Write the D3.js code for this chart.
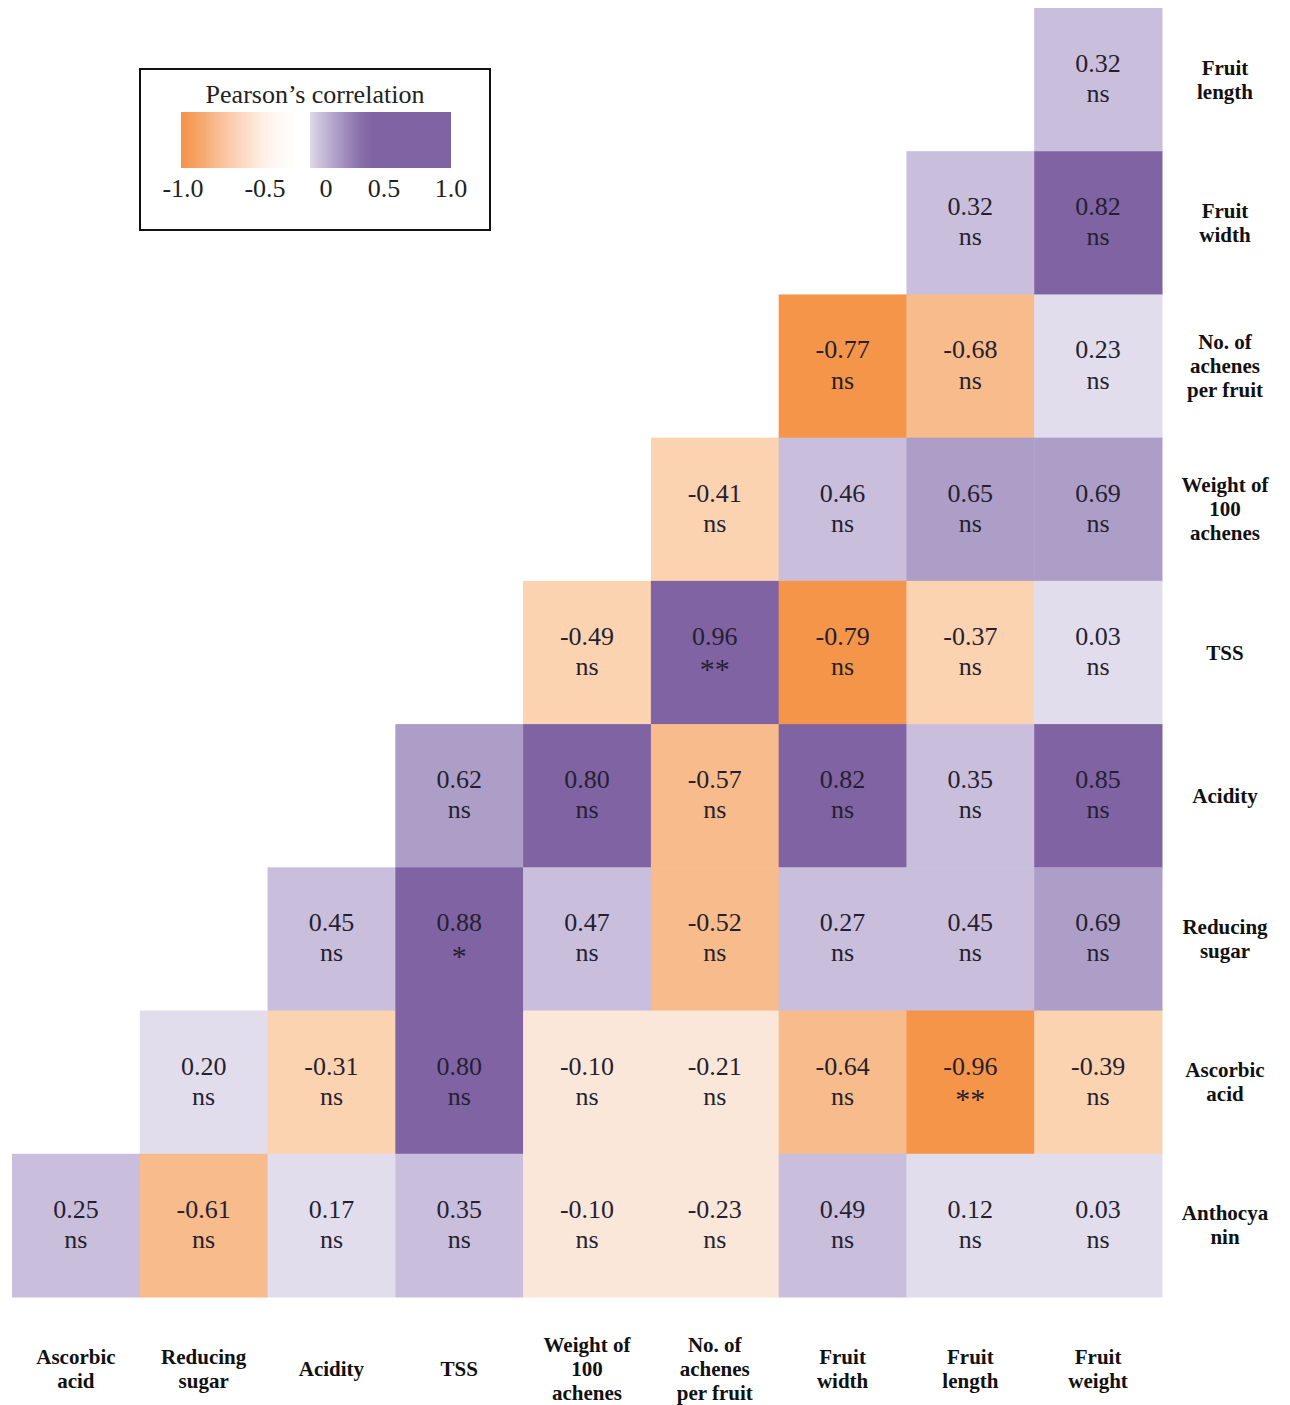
<!DOCTYPE html>
<html>
<head>
<meta charset="utf-8">
<script src="https://cdn.jsdelivr.net/npm/d3@7"></script>
<style>
  html, body { margin: 0; padding: 0; background: #ffffff; }
  svg { display: block; }
  svg text { font-family: "Liberation Serif", "Times New Roman", Tinos, "DejaVu Serif", serif; }
</style>
</head>
<body>
<div id="chart"></div>
<script>
// ---------- DATA ----------
const colLabels = ["Ascorbic acid", "Reducing sugar", "Acidity", "TSS", "Weight of 100 achenes",
  "No. of achenes per fruit", "Fruit width", "Fruit length", "Fruit weight"];
const colLabelLines = [["Ascorbic", "acid"], ["Reducing", "sugar"], ["Acidity"], ["TSS"],
  ["Weight of", "100", "achenes"], ["No. of", "achenes", "per fruit"], ["Fruit", "width"],
  ["Fruit", "length"], ["Fruit", "weight"]];
const rowLabels = ["Fruit length", "Fruit width", "No. of achenes per fruit", "Weight of 100 achenes",
  "TSS", "Acidity", "Reducing sugar", "Ascorbic acid", "Anthocyanin"];
const rowLabelLines = [["Fruit", "length"], ["Fruit", "width"], ["No. of", "achenes", "per fruit"],
  ["Weight of", "100", "achenes"], ["TSS"], ["Acidity"], ["Reducing", "sugar"], ["Ascorbic", "acid"],
  ["Anthocya", "nin"]];
// correlation values per row (null = empty cell), columns in colLabels order
const rowFruitLength   = [null, null, null, null, null, null, null, null, 0.32];
const rowFruitWidth    = [null, null, null, null, null, null, null, 0.32, 0.82];
const rowNoAchenes     = [null, null, null, null, null, null, -0.77, -0.68, 0.23];
const rowWeight100     = [null, null, null, null, null, -0.41, 0.46, 0.65, 0.69];
const rowTSS           = [null, null, null, null, -0.49, 0.96, -0.79, -0.37, 0.03];
const rowAcidity       = [null, null, null, 0.62, 0.80, -0.57, 0.82, 0.35, 0.85];
const rowReducingSugar = [null, null, 0.45, 0.88, 0.47, -0.52, 0.27, 0.45, 0.69];
const rowAscorbicAcid  = [null, 0.20, -0.31, 0.80, -0.10, -0.21, -0.64, -0.96, -0.39];
const rowAnthocyanin   = [0.25, -0.61, 0.17, 0.35, -0.10, -0.23, 0.49, 0.12, 0.03];
const corrRows = [rowFruitLength, rowFruitWidth, rowNoAchenes, rowWeight100, rowTSS,
  rowAcidity, rowReducingSugar, rowAscorbicAcid, rowAnthocyanin];
// significance marks (cells not listed are "ns")
const sigMarks = [
  { row: "TSS", col: "No. of achenes per fruit", mark: "**" },
  { row: "Reducing sugar", col: "TSS", mark: "*" },
  { row: "Ascorbic acid", col: "Fruit length", mark: "**" }
];
const legendTitle = "Pearson\u2019s correlation";
const legendNegTicks = [-1.0, -0.5];
const legendPosTicks = [0, 0.5, 1.0];
const binThresholds = [-0.7, -0.5, -0.3, 0, 0.24, 0.5, 0.75];
const binColors = ["#f5954a", "#f8bb8b", "#fbd3b1", "#fbe7da", "#e2ddec", "#c9bedc", "#ad9ec8", "#7f63a3"];

// ---------- CHART ----------
const W = 1290, H = 1405;
const svg = d3.select("#chart").append("svg").attr("width", W).attr("height", H);
const textColor = "#261f30";

const x = d3.scaleBand().domain(colLabels).range([12, 1162]).paddingInner(0);
const y = d3.scaleBand().domain(rowLabels).range([8, 1297]).paddingInner(0);
const color = d3.scaleThreshold().domain(binThresholds).range(binColors);

const cells = [];
corrRows.forEach((vals, ri) => {
  vals.forEach((v, ci) => {
    if (v === null) return;
    const s = sigMarks.find(m => m.row === rowLabels[ri] && m.col === colLabels[ci]);
    cells.push({ row: rowLabels[ri], col: colLabels[ci], value: v, sig: s ? s.mark : "ns" });
  });
});

const g = svg.append("g");
g.selectAll("rect.cell").data(cells).join("rect")
  .attr("class", "cell")
  .attr("x", d => x(d.col))
  .attr("y", d => y(d.row))
  .attr("width", x.bandwidth() + 0.5)
  .attr("height", y.bandwidth() + 0.5)
  .attr("fill", d => color(d.value));

g.selectAll("text.val").data(cells).join("text")
  .attr("class", "val")
  .attr("x", d => x(d.col) + x.bandwidth() / 2)
  .attr("y", d => y(d.row) + y.bandwidth() * 0.447)
  .attr("text-anchor", "middle")
  .attr("font-size", 26)
  .attr("fill", textColor)
  .text(d => d.value.toFixed(2));

g.selectAll("text.sig").data(cells).join("text")
  .attr("class", "sig")
  .attr("x", d => x(d.col) + x.bandwidth() / 2)
  .attr("y", d => y(d.row) + y.bandwidth() * (d.sig === "ns" ? 0.657 : 0.688))
  .attr("text-anchor", "middle")
  .attr("font-size", d => d.sig === "ns" ? 26 : 30)
  .attr("fill", textColor)
  .text(d => d.sig);

// right-side row labels
const lineH = 24;
rowLabels.forEach((r, i) => {
  const lines = rowLabelLines[i];
  const cy = y(r) + y.bandwidth() / 2;
  const t = svg.append("text")
    .attr("text-anchor", "middle")
    .attr("font-weight", "bold")
    .attr("font-size", 21)
    .attr("fill", "#111");
  lines.forEach((ln, k) => {
    t.append("tspan").attr("x", 1225)
      .attr("y", cy + (k - (lines.length - 1) / 2) * lineH + 7)
      .text(ln);
  });
});

// bottom column labels
colLabels.forEach((c, i) => {
  const lines = colLabelLines[i];
  const cx = x(c) + x.bandwidth() / 2;
  const t = svg.append("text")
    .attr("text-anchor", "middle")
    .attr("font-weight", "bold")
    .attr("font-size", 21)
    .attr("fill", "#111");
  lines.forEach((ln, k) => {
    t.append("tspan").attr("x", cx)
      .attr("y", 1369 + (k - (lines.length - 1) / 2) * lineH + 7)
      .text(ln);
  });
});

// ---------- LEGEND ----------
const defs = svg.append("defs");
const gNeg = defs.append("linearGradient").attr("id", "gradNeg");
[["0%", "#f5914a"], ["15%", "#f6a467"], ["45%", "#fbcfb2"], ["75%", "#fff3ec"], ["100%", "#ffffff"]]
  .forEach(([o, c]) => gNeg.append("stop").attr("offset", o).attr("stop-color", c));
const gPos = defs.append("linearGradient").attr("id", "gradPos");
[["0%", "#ddd8e7"], ["15%", "#b7a9cf"], ["35%", "#8a70aa"], ["45%", "#7f63a3"], ["100%", "#7f63a3"]]
  .forEach(([o, c]) => gPos.append("stop").attr("offset", o).attr("stop-color", c));

const leg = svg.append("g");
leg.append("rect").attr("x", 140).attr("y", 69).attr("width", 350).attr("height", 161)
  .attr("fill", "#fff").attr("stroke", "#111").attr("stroke-width", 2);
leg.append("text").attr("x", 315).attr("y", 103).attr("text-anchor", "middle")
  .attr("font-size", 26).attr("fill", "#222")
  .text(legendTitle);

const negScale = d3.scaleLinear().domain([-1, -0.5]).range([183, 265]);
const posScale = d3.scaleLinear().domain([0, 0.5, 1]).range([326, 384, 451]);
leg.append("rect").attr("x", 181).attr("y", 112).attr("width", 115).attr("height", 56)
  .attr("fill", "url(#gradNeg)");
leg.append("rect").attr("x", 310).attr("y", 112).attr("width", 141).attr("height", 56)
  .attr("fill", "url(#gradPos)");
leg.selectAll("text.negt").data(legendNegTicks).join("text")
  .attr("class", "negt")
  .attr("x", d => negScale(d)).attr("y", 197).attr("text-anchor", "middle")
  .attr("font-size", 26).attr("fill", "#222")
  .text(d => d.toFixed(1));
leg.selectAll("text.post").data(legendPosTicks).join("text")
  .attr("class", "post")
  .attr("x", d => posScale(d)).attr("y", 197).attr("text-anchor", "middle")
  .attr("font-size", 26).attr("fill", "#222")
  .text(d => d === 0 ? "0" : d.toFixed(1));
</script>
</body>
</html>
